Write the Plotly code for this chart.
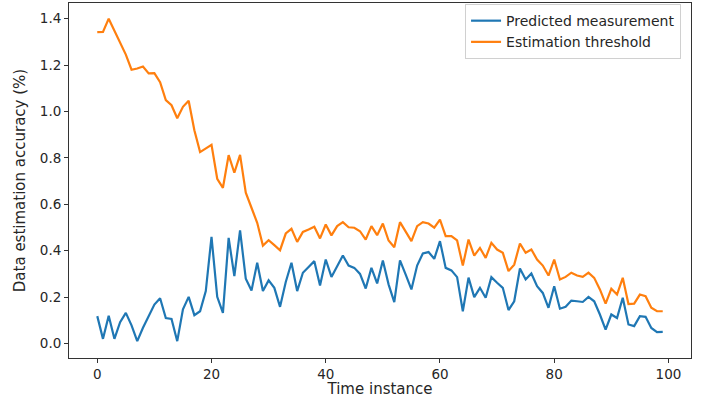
import plotly.graph_objects as go

time_instance = list(range(100))

predicted_measurement = [
    0.118, 0.02, 0.12, 0.02, 0.092, 0.132, 0.078, 0.01, 0.068, 0.118,
    0.168, 0.195, 0.11, 0.106, 0.01, 0.147, 0.201, 0.122, 0.139, 0.226,
    0.46, 0.201, 0.132, 0.455, 0.29, 0.488, 0.279, 0.228, 0.348, 0.226,
    0.272, 0.24, 0.158, 0.265, 0.348, 0.226, 0.305, 0.33, 0.355, 0.25,
    0.362, 0.287, 0.33, 0.379, 0.336, 0.326, 0.30, 0.237, 0.326, 0.259,
    0.358, 0.255, 0.178, 0.358, 0.297, 0.233, 0.336, 0.388, 0.394, 0.365,
    0.441, 0.326, 0.315, 0.286, 0.139, 0.284, 0.2, 0.24, 0.197, 0.286,
    0.262, 0.24, 0.144, 0.182, 0.323, 0.276, 0.302, 0.247, 0.218, 0.154,
    0.247, 0.15, 0.158, 0.185, 0.182, 0.179, 0.201, 0.182, 0.125, 0.06,
    0.125, 0.11, 0.197, 0.082, 0.075, 0.118, 0.115, 0.067, 0.049, 0.05,
]

estimation_threshold = [
    1.342, 1.343, 1.40, 1.35, 1.30, 1.245, 1.18, 1.185, 1.194, 1.164,
    1.165, 1.126, 1.049, 1.027, 0.971, 1.02, 1.046, 0.919, 0.825, 0.839,
    0.856, 0.71, 0.671, 0.812, 0.736, 0.813, 0.65, 0.585, 0.52, 0.422,
    0.445, 0.424, 0.402, 0.474, 0.494, 0.438, 0.481, 0.491, 0.503, 0.453,
    0.513, 0.466, 0.506, 0.523, 0.501, 0.499, 0.484, 0.448, 0.506, 0.467,
    0.517, 0.444, 0.415, 0.523, 0.484, 0.441, 0.506, 0.523, 0.517, 0.499,
    0.534, 0.463, 0.463, 0.444, 0.336, 0.448, 0.379, 0.412, 0.369, 0.434,
    0.405, 0.391, 0.312, 0.34, 0.431, 0.391, 0.405, 0.362, 0.336, 0.293,
    0.362, 0.276, 0.287, 0.305, 0.293, 0.287, 0.305, 0.283, 0.233, 0.172,
    0.236, 0.211, 0.283, 0.17, 0.172, 0.211, 0.204, 0.154, 0.139, 0.139,
]

x_ticks = [0, 20, 40, 60, 80, 100]
y_ticks = [0.0, 0.2, 0.4, 0.6, 0.8, 1.0, 1.2, 1.4]

font_family = "DejaVu Sans"
text_color = "#262626"

fig = go.Figure()
fig.add_trace(go.Scatter(
    x=time_instance, y=predicted_measurement, mode="lines",
    name="Predicted measurement", line=dict(color="#1f77b4", width=2.2),
))
fig.add_trace(go.Scatter(
    x=time_instance, y=estimation_threshold, mode="lines",
    name="Estimation threshold", line=dict(color="#ff7f0e", width=2.2),
))

axis_common = dict(
    showgrid=False, zeroline=False, showline=True, linecolor="#333333",
    linewidth=1, mirror=True, ticks="outside", ticklen=4, tickwidth=1,
    tickcolor="#333333", automargin=False,
    tickfont=dict(family=font_family, size=13.5, color=text_color),
)

fig.update_layout(
    width=706, height=398,
    margin=dict(l=69, r=15, t=3, b=40),
    paper_bgcolor="white", plot_bgcolor="white",
    font=dict(family=font_family, size=13.5, color=text_color),
    xaxis=dict(
        range=[-4.95, 103.95], tickvals=x_ticks,
        title=dict(text="Time instance", font=dict(size=15), standoff=2),
        **axis_common,
    ),
    yaxis=dict(
        range=[-0.0625, 1.4675], tickvals=y_ticks, tickformat=".1f",
        title=dict(text="Data estimation accuracy (%)", font=dict(size=15), standoff=10),
        **axis_common,
    ),
    legend=dict(
        x=0.984, y=0.997, xanchor="right", yanchor="top",
        bgcolor="rgba(255,255,255,0.8)", bordercolor="#d0d0d0", borderwidth=1,
        font=dict(family=font_family, size=14, color=text_color),
        tracegroupgap=0,
    ),
    showlegend=True,
)

fig.write_html(
    "out.html",
    config={"displayModeBar": False},
    post_script="document.body.style.margin='0px';document.body.style.overflow='hidden';",
)
